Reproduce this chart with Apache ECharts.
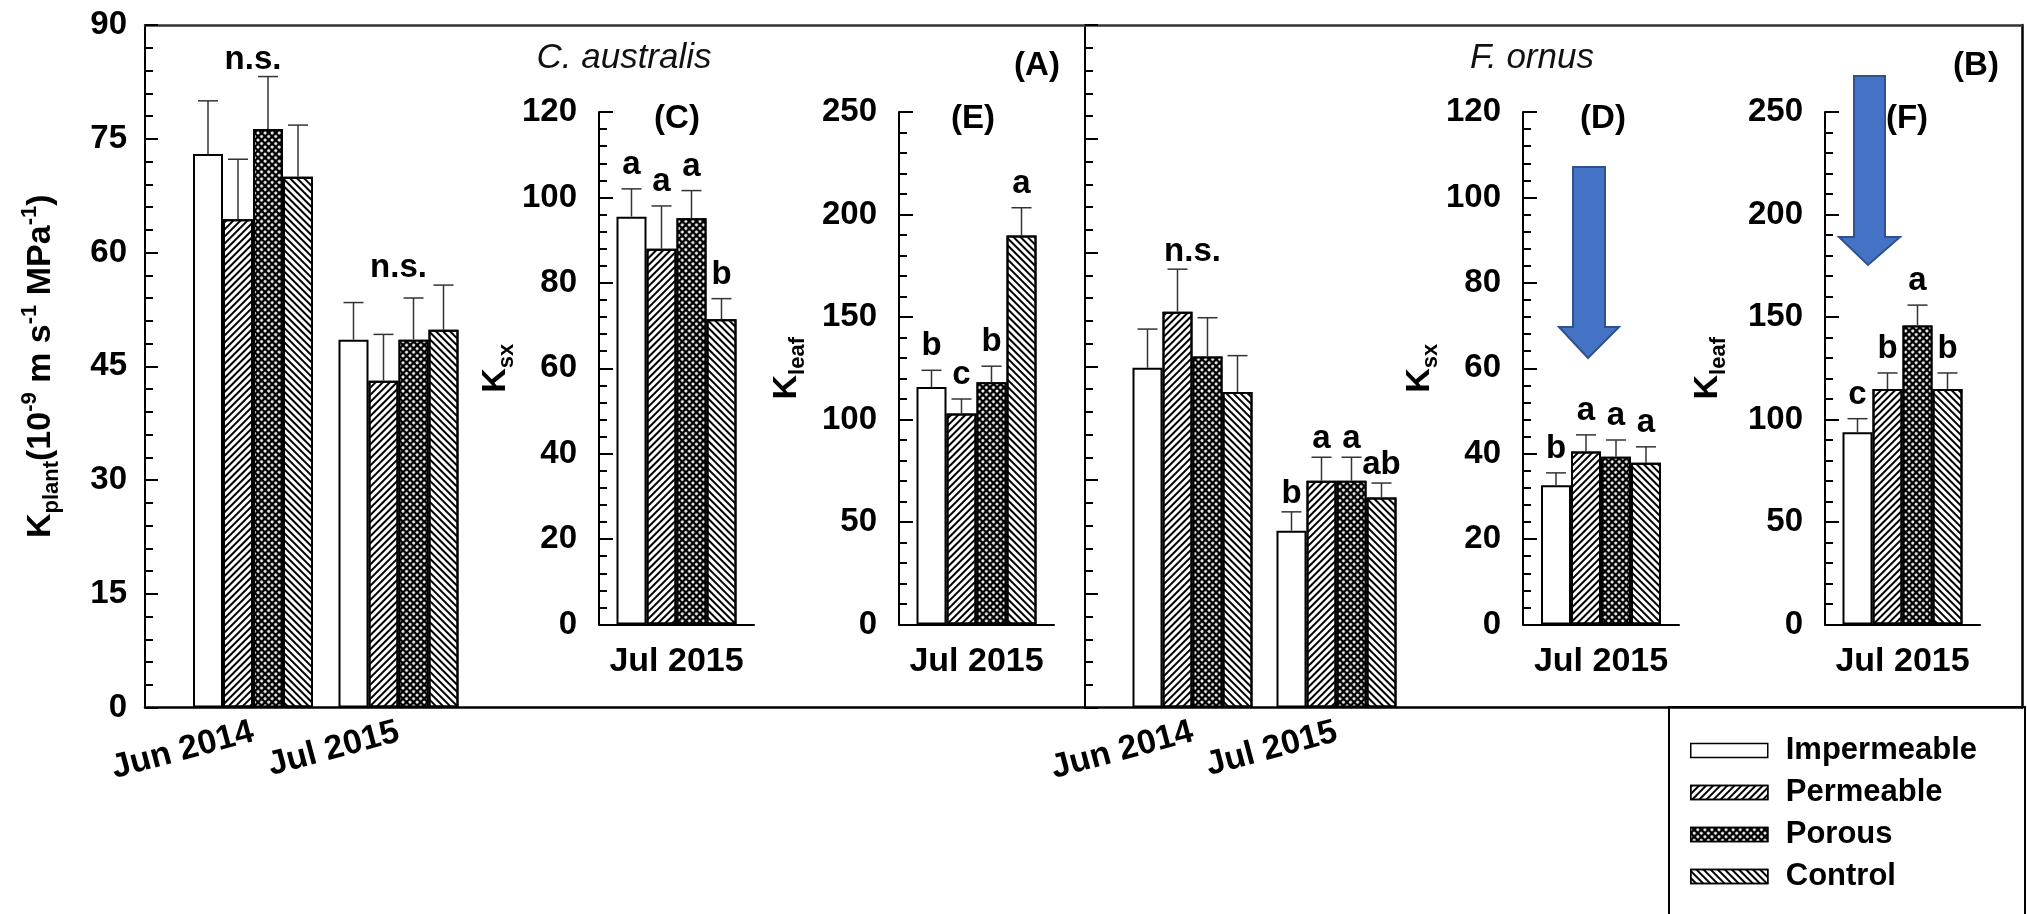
<!DOCTYPE html>
<html><head><meta charset="utf-8">
<script src="https://cdn.jsdelivr.net/npm/echarts@6/dist/echarts.min.js"></script>
<style>html,body{margin:0;padding:0;background:#fff}#c{width:2027px;height:914px}</style>
</head><body><div id="c"></div>
<script>
// ---------------- DATA ----------------
const treatments = ['Impermeable', 'Permeable', 'Porous', 'Control'];
const mainDates = ['Jun 2014', 'Jul 2015'];
const insetDates = ['Jul 2015'];

// Axis ranges / tick labels
const kplantRange = {min: 0, max: 90, interval: 15};
const ksxRange = {min: 0, max: 120, interval: 20};
const kleafRange = {min: 0, max: 250, interval: 50};

// (A) C. australis K_plant  — rows: treatment, cols: [Jun 2014, Jul 2015]
const kplantCaMean = [[73.0, 48.5], [64.4, 43.1], [76.3, 48.5], [70.0, 49.8]];
const kplantCaSE   = [[7.0, 4.9], [7.9, 6.1], [6.9, 5.5], [6.8, 5.9]];
const kplantCaLetters = [['', ''], ['', ''], ['', ''], ['', '']];
const kplantCaGroup = ['n.s.', 'n.s.'];

// (B) F. ornus K_plant
const kplantFoMean = [[44.8, 23.3], [52.2, 29.9], [46.3, 29.9], [41.6, 27.7]];
const kplantFoSE   = [[5.1, 2.5], [5.6, 3.1], [5.1, 3.1], [4.8, 1.9]];
const kplantFoLetters = [['', 'b'], ['', 'a'], ['', 'a'], ['', 'ab']];
const kplantFoGroup = ['n.s.', ''];

// (C) C. australis K_sx, Jul 2015
const ksxCaMean = [95.5, 88.0, 95.1, 71.5];
const ksxCaSE = [6.5, 10.0, 6.5, 4.8];
const ksxCaLetters = ['a', 'a', 'a', 'b'];
// (E) C. australis K_leaf, Jul 2015
const kleafCaMean = [115.9, 102.9, 118.2, 189.8];
const kleafCaSE = [8.1, 7.1, 7.8, 13.5];
const kleafCaLetters = ['b', 'c', 'b', 'a'];
// (D) F. ornus K_sx, Jul 2015
const ksxFoMean = [32.6, 40.5, 39.3, 37.9];
const ksxFoSE = [2.9, 3.9, 3.9, 3.7];
const ksxFoLetters = ['b', 'a', 'a', 'a'];
// (F) F. ornus K_leaf, Jul 2015
const kleafFoMean = [93.8, 114.9, 145.8, 114.9];
const kleafFoSE = [6.6, 7.8, 10.0, 7.8];
const kleafFoLetters = ['c', 'b', 'a', 'b'];

// ---------------- STYLE ----------------
const FONT = '"Liberation Sans", Arial, Helvetica, sans-serif';
const BAR_W = 30;
const fills = ['#ffffff', '#ffffff', '#000000', '#ffffff'];
const decals = [
  null,
  {symbol: 'rect', symbolSize: 1, color: '#000', dashArrayX: [1, 0], dashArrayY: [2, 3], rotation: -Math.PI / 4},
  {symbol: 'circle', symbolSize: 1, color: '#fff', dashArrayX: [3, 2], dashArrayY: [3, 2], rotation: Math.PI / 4},
  {symbol: 'rect', symbolSize: 1, color: '#000', dashArrayX: [1, 0], dashArrayY: [2, 3], rotation: Math.PI / 4}
];
const tickFont = {fontSize: 33, fontWeight: 'bold', fontFamily: FONT, color: '#000'};
const richName = {
  k: {fontSize: 34, fontWeight: 'bold', fontFamily: FONT, color: '#000', lineHeight: 44, verticalAlign: 'middle'},
  sub: {fontSize: 22, fontWeight: 'bold', fontFamily: FONT, color: '#000', lineHeight: 22, verticalAlign: 'bottom'},
  sup: {fontSize: 22, fontWeight: 'bold', fontFamily: FONT, color: '#000', lineHeight: 22, verticalAlign: 'top'}
};

const grid = [
  {left: 145, top: 25, width: 940, height: 682.5},    // 0 frame A
  {left: 180.25, top: 25, width: 291, height: 682.5}, // 1 bars A
  {left: 1085, top: 25, width: 937, height: 682.5},   // 2 frame B
  {left: 1120.5, top: 25, width: 288, height: 682.5}, // 3 bars B
  {left: 599, top: 112, width: 155, height: 512.5},   // 4 C
  {left: 899, top: 112, width: 155, height: 512.5},   // 5 E
  {left: 1523, top: 112, width: 156, height: 512.5},  // 6 D
  {left: 1825, top: 112, width: 155, height: 512.5}   // 7 F
];

const xAxis = [], yAxis = [], series = [];

function valueAxis(gridIndex, range, extra) {
  return Object.assign({
    type: 'value', gridIndex, min: range.min, max: range.max, interval: range.interval,
    axisLine: {show: true, onZero: false, lineStyle: {color: '#000', width: 2}},
    axisTick: {show: true, inside: true, length: 13, lineStyle: {color: '#000', width: 2}},
    minorTick: {show: true, splitNumber: 5, length: 8, lineStyle: {color: '#000', width: 2}},
    axisLabel: Object.assign({show: true, margin: 18}, tickFont),
    splitLine: {show: false}, minorSplitLine: {show: false}
  }, extra || {});
}
function lineOnlyX(gridIndex, position, color) {
  return {type: 'value', gridIndex, min: 0, max: 1, position,
    axisLine: {show: true, onZero: false, lineStyle: {color, width: 2.5}},
    axisTick: {show: false}, axisLabel: {show: false}, splitLine: {show: false}};
}

// Frame A
xAxis.push(lineOnlyX(0, 'bottom', '#000'));
xAxis.push(lineOnlyX(0, 'top', '#333'));
yAxis.push(valueAxis(0, kplantRange, {
  name: '{k|K}{sub|plant}{k|(10}{sup|-9}{k| m s}{sup|-1}{k| MPa}{sup|-1}{k|)}',
  nameLocation: 'middle', nameGap: 82, nameTextStyle: {rich: richName}
}));
// Frame B
xAxis.push(lineOnlyX(2, 'bottom', '#000'));
xAxis.push(lineOnlyX(2, 'top', '#333'));
yAxis.push(valueAxis(2, kplantRange, {axisLabel: {show: false}}));
yAxis.push({type: 'value', gridIndex: 2, min: 0, max: 90, position: 'right',
  axisLine: {show: true, onZero: false, lineStyle: {color: '#000', width: 2.5}},
  axisTick: {show: false}, axisLabel: {show: false}, splitLine: {show: false}});

function addPanel(cfg) {
  const xi = xAxis.length;
  xAxis.push(Object.assign({type: 'category', gridIndex: cfg.grid, data: cfg.cats, position: 'bottom',
    splitLine: {show: false}}, cfg.xOpts));
  const yi = yAxis.length;
  yAxis.push(cfg.yOpts);
  const means = cfg.means, ses = cfg.ses, letters = cfg.letters, groups = cfg.groups || [];
  treatments.forEach((name, t) => {
    series.push({
      type: 'bar', name, xAxisIndex: xi, yAxisIndex: yi, data: means[t],
      barWidth: BAR_W, barGap: '0%', z: 2, silent: true,
      itemStyle: {color: fills[t], borderColor: '#000', borderWidth: 2, decal: decals[t] || undefined},
      emphasis: {disabled: true}
    });
  });
  const data = [];
  cfg.cats.forEach((c, ci) => treatments.forEach((n, t) => data.push([ci, t, means[t][ci], ses[t][ci]])));
  const txtStyle = (text) => ({text, fill: '#000', fontSize: 33, fontWeight: 'bold', fontFamily: FONT,
    align: 'center', verticalAlign: 'middle', textAlign: 'center', textVerticalAlign: 'middle'});
  series.push({
    type: 'custom', name: 'err', xAxisIndex: xi, yAxisIndex: yi, data, z: 5, clip: false, silent: true,
    renderItem(params, api) {
      const ci = api.value(0), t = api.value(1), m = api.value(2), s = api.value(3);
      const base = api.coord([ci, m]), top = api.coord([ci, m + s]);
      const x = base[0] + (t - 1.5) * BAR_W;
      const children = [
        {type: 'line', shape: {x1: x, y1: base[1], x2: x, y2: top[1]}, style: {stroke: '#333', lineWidth: 1.5}},
        {type: 'line', shape: {x1: x - 10, y1: top[1], x2: x + 10, y2: top[1]}, style: {stroke: '#333', lineWidth: 1.5}}
      ];
      const L = letters[t][ci];
      if (L) children.push({type: 'text', x: x, y: top[1] - cfg.letterGap, style: txtStyle(L)});
      if (t === 0 && groups[ci]) {
        let mx = -Infinity;
        for (let k = 0; k < treatments.length; k++) mx = Math.max(mx, means[k][ci] + ses[k][ci]);
        const p = api.coord([ci, mx]);
        children.push({type: 'text', x: base[0], y: p[1] - cfg.groupGap, style: txtStyle(groups[ci])});
      }
      return {type: 'group', children};
    }
  });
}

const mainX = {
  axisLine: {show: false, onZero: false},
  axisTick: {show: true, inside: true, alignWithLabel: true, length: 14, lineStyle: {color: '#000', width: 3}},
  axisLabel: Object.assign({interval: 0, rotate: 15, margin: 24}, tickFont, {fontSize: 34})
};
const insetX = {
  axisLine: {show: true, onZero: false, lineStyle: {color: '#000', width: 2}},
  axisTick: {show: true, inside: true, alignWithLabel: true, length: 8, lineStyle: {color: '#000', width: 3}},
  axisLabel: Object.assign({interval: 0, margin: 20}, tickFont, {fontSize: 34})
};
const hiddenY = (g, r) => ({type: 'value', gridIndex: g, min: r.min, max: r.max, show: false, splitLine: {show: false}});
const col = (arr) => arr.map(v => [v]);
const insetY = (g, r, name, gap) => valueAxis(g, r, {
  axisTick: {show: true, inside: true, length: 14, lineStyle: {color: '#000', width: 2}},
  axisLabel: Object.assign({show: true, margin: 22}, tickFont),
  name, nameLocation: 'middle', nameGap: gap, nameTextStyle: {rich: richName}
});

addPanel({grid: 1, cats: mainDates, xOpts: mainX, yOpts: hiddenY(1, kplantRange),
  means: kplantCaMean, ses: kplantCaSE, letters: kplantCaLetters, groups: kplantCaGroup, letterGap: 18, groupGap: 17});
addPanel({grid: 3, cats: mainDates, xOpts: mainX, yOpts: hiddenY(3, kplantRange),
  means: kplantFoMean, ses: kplantFoSE, letters: kplantFoLetters, groups: kplantFoGroup, letterGap: 18, groupGap: 17});
addPanel({grid: 4, cats: insetDates, xOpts: insetX, yOpts: insetY(4, ksxRange, '{k|K}{sub|sx}', 73),
  means: col(ksxCaMean), ses: col(ksxCaSE), letters: col(ksxCaLetters), letterGap: 24});
addPanel({grid: 5, cats: insetDates, xOpts: insetX, yOpts: insetY(5, kleafRange, '{k|K}{sub|leaf}', 90),
  means: col(kleafCaMean), ses: col(kleafCaSE), letters: col(kleafCaLetters), letterGap: 24});
addPanel({grid: 6, cats: insetDates, xOpts: insetX, yOpts: insetY(6, ksxRange, '{k|K}{sub|sx}', 77),
  means: col(ksxFoMean), ses: col(ksxFoSE), letters: col(ksxFoLetters), letterGap: 24});
addPanel({grid: 7, cats: insetDates, xOpts: insetX, yOpts: insetY(7, kleafRange, '{k|K}{sub|leaf}', 95),
  means: col(kleafFoMean), ses: col(kleafFoSE), letters: col(kleafFoLetters), letterGap: 24});

const label = (text, x, y, extra) => ({type: 'text', x, y, z: 10, style: Object.assign({
  text, fill: '#000', fontSize: 33, fontWeight: 'bold', fontFamily: FONT,
  align: 'center', verticalAlign: 'middle', textAlign: 'center', textVerticalAlign: 'middle'}, extra || {})});
const arrow = (pts) => ({type: 'polygon', z: 20, shape: {points: pts},
  style: {fill: '#4472C4', stroke: '#2F528F', lineWidth: 2}});

const option = {
  animation: false,
  backgroundColor: '#fff',
  grid, xAxis, yAxis, series,
  legend: {
    data: treatments, orient: 'vertical', left: 1669, top: 707, height: 400,
    padding: [28, 48, 40, 21], itemWidth: 77, itemHeight: 14, itemGap: 11,
    borderColor: '#000', borderWidth: 2, icon: 'rect', selectedMode: false,
    itemStyle: {borderColor: '#000', borderWidth: 1.5},
    textStyle: {fontSize: 31, fontWeight: 'bold', fontFamily: FONT, color: '#000', padding: [0, 0, 0, 13]}
  },
  graphic: [
    label('C. australis', 624, 58, {fontStyle: 'italic', fontWeight: 'normal', fontSize: 35, fill: '#111'}),
    label('F. ornus', 1532, 58, {fontStyle: 'italic', fontWeight: 'normal', fontSize: 35, fill: '#111'}),
    label('(A)', 1037, 66), label('(B)', 1976, 66),
    label('(C)', 677, 119), label('(E)', 973, 119),
    label('(D)', 1603, 119), label('(F)', 1907, 119),
    arrow([[1573, 167], [1605, 167], [1605, 327], [1619, 327], [1588, 358], [1559, 327], [1573, 327]]),
    arrow([[1854, 76], [1885, 76], [1885, 237], [1900, 237], [1868, 265], [1839, 237], [1854, 237]])
  ]
};

const chart = echarts.init(document.getElementById('c'), null, {renderer: 'canvas', width: 2027, height: 914});
chart.setOption(option);
</script>
</body></html>
